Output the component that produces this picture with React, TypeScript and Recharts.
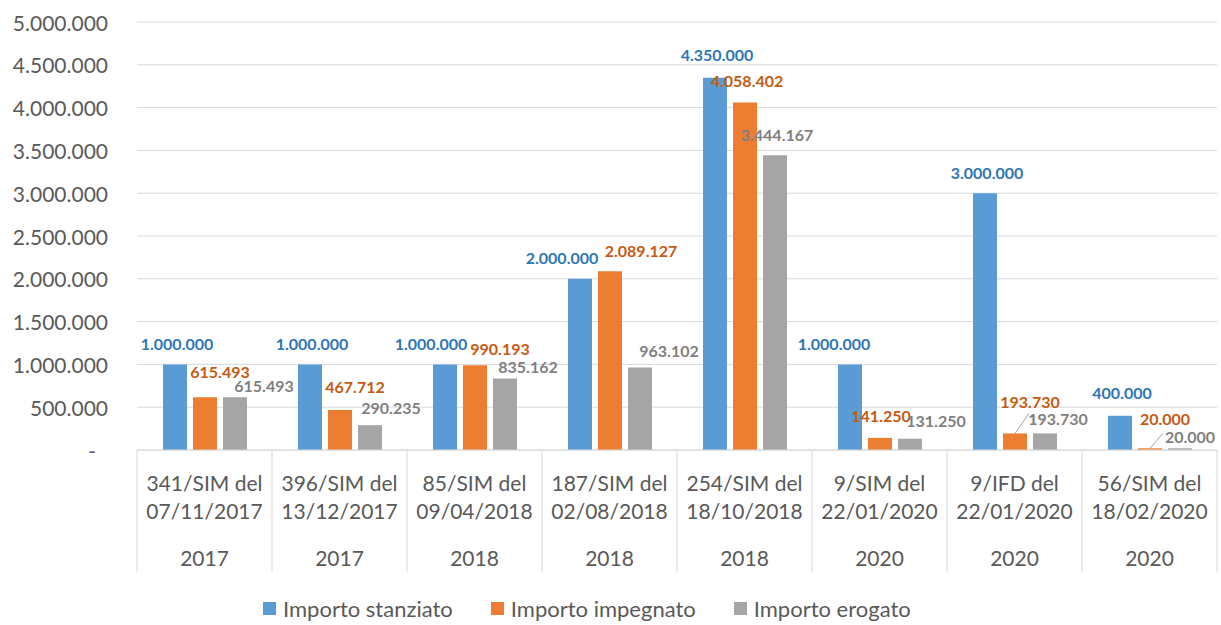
import { Bar, BarChart, CartesianGrid, LabelList, XAxis, YAxis } from "recharts";

// categories (two-level axis: decree + year)
const decrees = [
  "341/SIM del",
  "396/SIM del",
  "85/SIM del",
  "187/SIM del",
  "254/SIM del",
  "9/SIM del",
  "9/IFD del",
  "56/SIM del",
];
const decreeDates = [
  "07/11/2017",
  "13/12/2017",
  "09/04/2018",
  "02/08/2018",
  "18/10/2018",
  "22/01/2020",
  "22/01/2020",
  "18/02/2020",
];
const years = ["2017", "2017", "2018", "2018", "2018", "2020", "2020", "2020"];

// series values (€)
const stanziato = [1000000, 1000000, 1000000, 2000000, 4350000, 1000000, 3000000, 400000];
const impegnato = [615493, 467712, 990193, 2089127, 4058402, 141250, 193730, 20000];
const erogato = [615493, 290235, 835162, 963102, 3444167, 131250, 193730, 20000];

const yTicks = [0, 500000, 1000000, 1500000, 2000000, 2500000, 3000000, 3500000, 4000000, 4500000, 5000000];

const data = decrees.map((d, i) => ({
  name: `${d} ${decreeDates[i]}`,
  stanziato: stanziato[i],
  impegnato: impegnato[i],
  erogato: erogato[i],
}));

const W = 1221;
const H = 625;
const Y_W = 137;
const RIGHT = 4;
const BAND = (W - Y_W - RIGHT) / decrees.length;

const FONT = "Lato, 'Noto Sans', sans-serif";
const AXIS_TEXT = "#595959";
const GRID = "#d9d9d9";

const SERIES = [
  { key: "stanziato", label: "Importo stanziato", fill: "#5b9bd5", text: "#2e75b6" },
  { key: "impegnato", label: "Importo impegnato", fill: "#ed7d31", text: "#c55a11" },
  { key: "erogato", label: "Importo erogato", fill: "#a5a5a5", text: "#7f7f7f" },
];

// manual label nudges as in the original (dx, dy from bar top centre)
const LABEL_NUDGE: Record<string, number[][]> = {
  stanziato: [[2, -21], [2, -21], [-14, -21], [-18, -21], [2, -23], [-16, -21], [2, -21], [2, -23]],
  impegnato: [[15, -26], [15, -23], [25, -17], [31, -21], [2, -22], [1, -22], [15, -32], [15, -30]],
  erogato: [[29, -12], [21, -18], [23, -12], [29, -17], [2, -21], [26, -18], [13, -15], [10, -12]],
};
// leader lines on some labels: index -> end point relative to bar top centre
const LEADERS: Record<string, Record<number, number[]>> = {
  impegnato: { 6: [14, -20], 7: [13, -15] },
};

function fmt(v: number): string {
  if (v === 0) return "-";
  return String(v).replace(/\B(?=(\d{3})+(?!\d))/g, ".");
}

function makeLabel(key: string, color: string) {
  return (props: any) => {
    const { x, y, width, value, index } = props;
    const nudge = LABEL_NUDGE[key][index] || [0, -20];
    const cx = Number(x) + Number(width) / 2;
    const top = Number(y);
    const leader = LEADERS[key]?.[index];
    return (
      <g>
        {leader && (
          <line x1={cx} y1={top} x2={cx + leader[0]} y2={top + leader[1]} stroke="#a6a6a6" strokeWidth={1} />
        )}
        <text
          x={cx + nudge[0]}
          y={top + nudge[1]}
          textAnchor="middle"
          dominantBaseline="central"
          fill={color}
          fontFamily={FONT}
          fontSize={16}
          fontWeight={700}
        >
          {fmt(Number(value))}
        </text>
      </g>
    );
  };
}

function YTick(props: any) {
  const { x, y, payload } = props;
  const v = Number(payload.value);
  return (
    <text
      x={v === 0 ? x - 12 : x}
      y={y}
      textAnchor="end"
      dominantBaseline="central"
      fill={AXIS_TEXT}
      fontFamily={FONT}
      fontSize={21}
    >
      {fmt(v)}
    </text>
  );
}

function CategoryTick(props: any) {
  const { x, y, index } = props;
  const half = BAND / 2;
  const textProps = {
    textAnchor: "middle" as const,
    dominantBaseline: "central" as const,
    fill: AXIS_TEXT,
    fontFamily: FONT,
    fontSize: 21,
  };
  return (
    <g>
      <line x1={x - half} x2={x - half} y1={y} y2={y + 122} stroke={GRID} strokeWidth={1} />
      {index === decrees.length - 1 && (
        <line x1={x + half} x2={x + half} y1={y} y2={y + 122} stroke={GRID} strokeWidth={1} />
      )}
      <text x={x} y={y + 32} {...textProps}>
        {decrees[index]}
      </text>
      <text x={x} y={y + 60} {...textProps}>
        {decreeDates[index]}
      </text>
      <text x={x} y={y + 107} {...textProps}>
        {years[index]}
      </text>
    </g>
  );
}

export default function App() {
  return (
    <div style={{ position: "absolute", left: 0, top: 0, width: W, height: H, background: "#fff", fontFamily: FONT }}>
      <BarChart
        width={W}
        height={H}
        data={data}
        margin={{ top: 22, right: RIGHT, left: 0, bottom: 50 }}
        barSize={24}
        barGap={6}
      >
        <CartesianGrid vertical={false} stroke={GRID} strokeWidth={1} />
        <XAxis
          dataKey="name"
          interval={0}
          height={125}
          tickLine={false}
          tickSize={0}
          tickMargin={0}
          axisLine={{ stroke: GRID }}
          tick={<CategoryTick />}
        />
        <YAxis
          width={Y_W}
          domain={[0, 5000000]}
          ticks={yTicks}
          interval={0}
          axisLine={false}
          tickLine={false}
          tickSize={0}
          tickMargin={29}
          tick={<YTick />}
        />
        {SERIES.map((s) => (
          <Bar key={s.key} dataKey={s.key} fill={s.fill} isAnimationActive={false}>
            <LabelList dataKey={s.key} content={makeLabel(s.key, s.text)} />
          </Bar>
        ))}
      </BarChart>

      {/* legend */}
      <div
        style={{
          position: "absolute",
          left: 263,
          top: 595,
          display: "flex",
          alignItems: "center",
          fontSize: 22,
          color: AXIS_TEXT,
          whiteSpace: "nowrap",
        }}
      >
        {SERIES.map((s, i) => (
          <span key={s.key} style={{ display: "flex", alignItems: "center", marginLeft: i === 0 ? 0 : 38 }}>
            <span style={{ display: "inline-block", width: 13, height: 13, background: s.fill, marginRight: 7 }} />
            {s.label}
          </span>
        ))}
      </div>
    </div>
  );
}
